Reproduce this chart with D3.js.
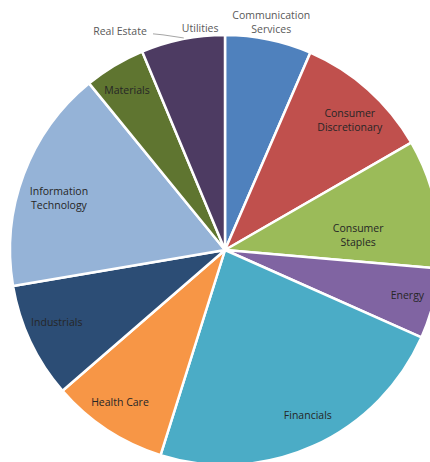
<!DOCTYPE html>
<html>
<head>
<meta charset="utf-8">
<script src="https://cdn.jsdelivr.net/npm/d3@7"></script>
<style>
  html, body { margin: 0; padding: 0; background: #ffffff; }
  svg { display: block; }
</style>
</head>
<body>
<svg id="chart" width="430" height="462"></svg>
<script>
// ---- data ----
const sectors = ["Communication Services", "Consumer Discretionary", "Consumer Staples", "Energy",
  "Financials", "Health Care", "Industrials", "Information Technology", "Materials", "Real Estate", "Utilities"];
const weights = [6.5, 10.2, 9.7, 5.3, 23.2, 8.8, 8.7, 16.8, 4.6, 0, 6.3];
const colors = ["#4F81BD", "#C0504D", "#9BBB59", "#8064A2", "#4BACC6", "#F79646",
  "#2C4D75", "#95B3D7", "#5F7530", "#772C2A", "#4D3B62"];
const labelLines = [["Communication", "Services"], ["Consumer", "Discretionary"], ["Consumer", "Staples"],
  ["Energy"], ["Financials"], ["Health Care"], ["Industrials"], ["Information", "Technology"],
  ["Materials"], ["Real Estate"], ["Utilities"]];

// ---- layout ----
const cx = 225, cy = 250, R = 215;
// label polar placement: [angle in degrees (clockwise from top), radius]
const labelPlace = [[11.5, 232], [43.9, 180], [83.6, 134], [104, 188], [153.4, 185], [214.6, 185],
  [246.8, 183], [287.4, 174], [328.4, 187], [334.4, 243], [353.6, 223]];
const outside = [true, false, false, false, false, false, false, false, false, true, true];

const svg = d3.select("#chart");
const g = svg.append("g").attr("transform", `translate(${cx},${cy})`);

const pie = d3.pie().sort(null).value(d => d.v);
const data = sectors.map((s, i) => ({ s, v: weights[i], i }));
const arcs = pie(data);
const arc = d3.arc().innerRadius(0).outerRadius(R);

g.selectAll("path.slice").data(arcs.filter(d => d.data.v > 0)).join("path")
  .attr("class", "slice")
  .attr("d", arc)
  .attr("fill", d => colors[d.data.i])
  .attr("stroke", "#ffffff")
  .attr("stroke-width", 2.5)
  .attr("stroke-linejoin", "round");

function polar(deg, r) {
  const a = deg * Math.PI / 180;
  return [r * Math.sin(a), -r * Math.cos(a)];
}

// leader line for Real Estate
const reIdx = sectors.indexOf("Real Estate");
const reLabel = polar(labelPlace[reIdx][0], labelPlace[reIdx][1]);
const reEnd = polar(349, R + 1);
g.append("polyline")
  .attr("points", [[reLabel[0] + 33, reLabel[1] + 3], [reLabel[0] + 43, reLabel[1] + 4], reEnd].map(p => p.join(",")).join(" "))
  .attr("fill", "none")
  .attr("stroke", "#a6a6a6")
  .attr("stroke-width", 1);

const lh = 14;
arcs.forEach(d => {
  const i = d.data.i;
  const [ang, rr] = labelPlace[i];
  const [x, y] = polar(ang, rr);
  const lines = labelLines[i];
  const t = g.append("text")
    .attr("x", x).attr("y", y)
    .attr("text-anchor", "middle")
    .attr("font-family", "'Open Sans', sans-serif")
    .attr("font-size", 10.5)
    .attr("fill", outside[i] ? "#595959" : "#262626");
  lines.forEach((ln, k) => {
    t.append("tspan")
      .attr("x", x)
      .attr("y", y + (k - (lines.length - 1) / 2) * lh)
      .attr("dy", "0.35em")
      .text(ln);
  });
});
</script>
</body>
</html>
